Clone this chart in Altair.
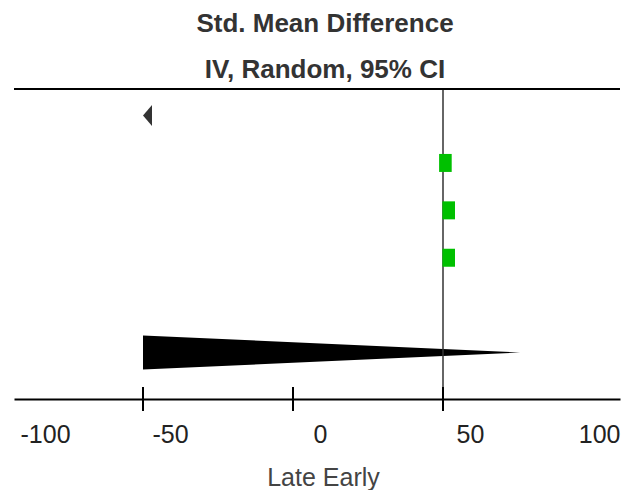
import altair as alt
import pandas as pd

# Study estimates (rows 2-4) and their x positions
study_rows = [2, 3, 4]
study_est = [41.8, 42.9, 42.9]

# Left-pointing arrow: CI running past the lower plot limit
arrow_rows = [1]
arrow_x = [-59]

# Pooled estimate (clipped diamond): lower edge to upper tip
pooled_row = 6
pooled_ci = [-59, 66.7]

# Axis labels, tick marks and the line of no effect
label_values = [-100, -50, 0, 50, 100]
tick_values = [-59, -9, 41]
ref_value = 41

W, H = 606, 310
HALF = 0.36  # half-height of the pooled shape, in row units
FONT = "Liberation Sans"

studies = pd.DataFrame({"x": study_est, "row": study_rows})
arrow = pd.DataFrame({"x": arrow_x, "row": arrow_rows})
diamond = pd.DataFrame({
    "x": pooled_ci,
    "top": [pooled_row - HALF, pooled_row],
    "bottom": [pooled_row + HALF, pooled_row],
})
ticks = pd.DataFrame({"x": tick_values})
ref = pd.DataFrame({"x": [ref_value]})

x_scale = alt.Scale(domain=[-102, 100], nice=False, zero=False)
y_scale = alt.Scale(domain=[0.44, 6.98], reverse=True, nice=False, zero=False)

x_axis = alt.Axis(
    values=label_values,
    ticks=False,
    tickSize=0,
    grid=False,
    labelExpr="'' + datum.value",
    labelAlign=alt.ExprRef(
        "datum.value <= -100 ? 'left' : datum.value >= 100 ? 'right' : 'center'"
    ),
    labelFont=FONT,
    labelFontSize=25,
    labelColor="#222",
    labelPadding=23,
    domainColor="#000",
    domainWidth=2,
    title="Late Early",
    titleFont=FONT,
    titleFontSize=25,
    titleFontWeight="normal",
    titleColor="#444",
    titleBaseline="alphabetic",
    titleY=86,
    titleX=309,
    titleAlign="center",
)


def xenc(field="x"):
    return alt.X(f"{field}:Q", scale=x_scale, axis=x_axis)


top_line = alt.Chart(ref).mark_rule(color="#000", strokeWidth=2).encode(
    x=alt.value(0), x2=alt.value(W), y=alt.value(0)
)

ref_line = alt.Chart(ref).mark_rule(color="#333", strokeWidth=1.5).encode(
    x=xenc(), y=alt.value(0), y2=alt.value(H)
)

tick_marks = alt.Chart(ticks).mark_rule(color="#000", strokeWidth=2).encode(
    x=xenc(), y=alt.value(H - 12), y2=alt.value(H + 12)
)

squares = alt.Chart(studies).mark_point(
    shape="M-0.7,-1H0.7V1H-0.7Z", filled=True, opacity=1, size=324,
    color="#00c000", strokeWidth=0,
).encode(x=xenc(), y=alt.Y("row:Q", scale=y_scale, axis=None))

arrows = alt.Chart(arrow).mark_point(
    shape="M0,0L0.86,-1L0.86,1Z", filled=True, opacity=1, size=441,
    color="#333", strokeWidth=0,
).encode(x=xenc(), y=alt.Y("row:Q", scale=y_scale, axis=None))

pooled = alt.Chart(diamond).mark_area(color="#000", opacity=1).encode(
    x=xenc(),
    y=alt.Y("top:Q", scale=y_scale, axis=None),
    y2="bottom:Q",
)

chart = alt.layer(
    pooled, ref_line, tick_marks, top_line, squares, arrows
).properties(
    width=W,
    height=H,
    background="white",
    autosize=alt.AutoSizeParams(type="none"),
    padding={"left": 14, "top": 89, "right": 4, "bottom": 91},
    title=alt.TitleParams(
        text=["Std. Mean Difference", "IV, Random, 95% CI"],
        font=FONT,
        fontSize=26,
        fontWeight="bold",
        color="#333",
        lineHeight=46,
        anchor="middle",
        dx=8,
        offset=-21,
        baseline="bottom",
    ),
).configure_view(stroke=None)

chart.save("out.html", embed_options={"renderer": "svg", "actions": False})
